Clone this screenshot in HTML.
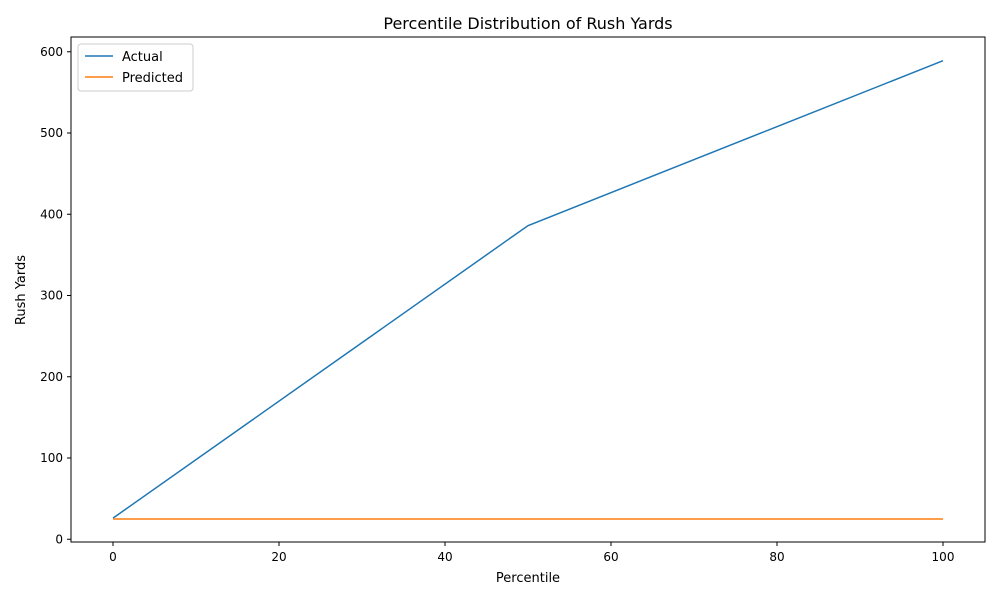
<!DOCTYPE html>
<html><head><meta charset="utf-8"><style>
body{margin:0;background:#fff;font-family:"Liberation Sans","DejaVu Sans",sans-serif;}
svg text{font-family:"DejaVu Sans","Liberation Sans",sans-serif;}
</style></head><body>
<svg id="chart" width="1000" height="600" xmlns="http://www.w3.org/2000/svg">
<rect width="1000" height="600" fill="#fff"/>
<text x="528" y="29" font-size="16" text-anchor="middle">Percentile Distribution of Rush Yards</text>
<text x="528" y="582" font-size="13" text-anchor="middle">Percentile</text>
<text x="25" y="290" font-size="13" text-anchor="middle" transform="rotate(-90 25 290)">Rush Yards</text>
<g id="ticks"></g>
<g id="series"></g>
<rect x="71" y="37" width="914" height="505" fill="none" stroke="#000" stroke-width="1"/>
<g>
<rect x="78" y="44" width="115" height="47" rx="3" fill="#fff" stroke="#ccc"/>
<line x1="85" y1="56" x2="113" y2="56" stroke="#1f77b4" stroke-width="1.5"/>
<text x="122" y="61" font-size="13">Actual</text>
<line x1="85" y1="77" x2="113" y2="77" stroke="#ff7f0e" stroke-width="1.5"/>
<text x="122" y="82" font-size="13">Predicted</text>
</g>
</svg>
<script>
const percentiles=[0,50,100];
const actual=[26,386,589];
const predicted=[25,25,25];
const xTicks=[0,20,40,60,80,100];
const yTicks=[0,100,200,300,400,500,600];
const NS="http://www.w3.org/2000/svg";
function xs(v){return 113+v*8.3;}
function ys(v){return 539.25-v*0.8125;}
const tg=document.getElementById('ticks');
function mk(t,a,p){const e=document.createElementNS(NS,t);for(const k in a)e.setAttribute(k,a[k]);p.appendChild(e);return e;}
xTicks.forEach(v=>{
 mk('line',{x1:xs(v),x2:xs(v),y1:542,y2:546,stroke:'#000'},tg);
 const t=mk('text',{x:xs(v),y:561,'font-size':12,'text-anchor':'middle'},tg);t.textContent=v;
 
 
});
yTicks.forEach(v=>{
 mk('line',{x1:67,x2:71,y1:ys(v),y2:ys(v),stroke:'#000'},tg);
 const t=mk('text',{x:63,y:ys(v)+4,'font-size':12,'text-anchor':'end'},tg);t.textContent=v;
 
 
});
const sg=document.getElementById('series');
function line(vals,color,name){
 const p=mk('polyline',{points:percentiles.map((x,i)=>xs(x)+','+ys(vals[i])).join(' '),fill:'none',stroke:color,'stroke-width':1.5},sg);
 
 
}
line(actual,'#1f77b4','actual-line');
line(predicted,'#ff7f0e','predicted-line');
</script>
</body></html>
